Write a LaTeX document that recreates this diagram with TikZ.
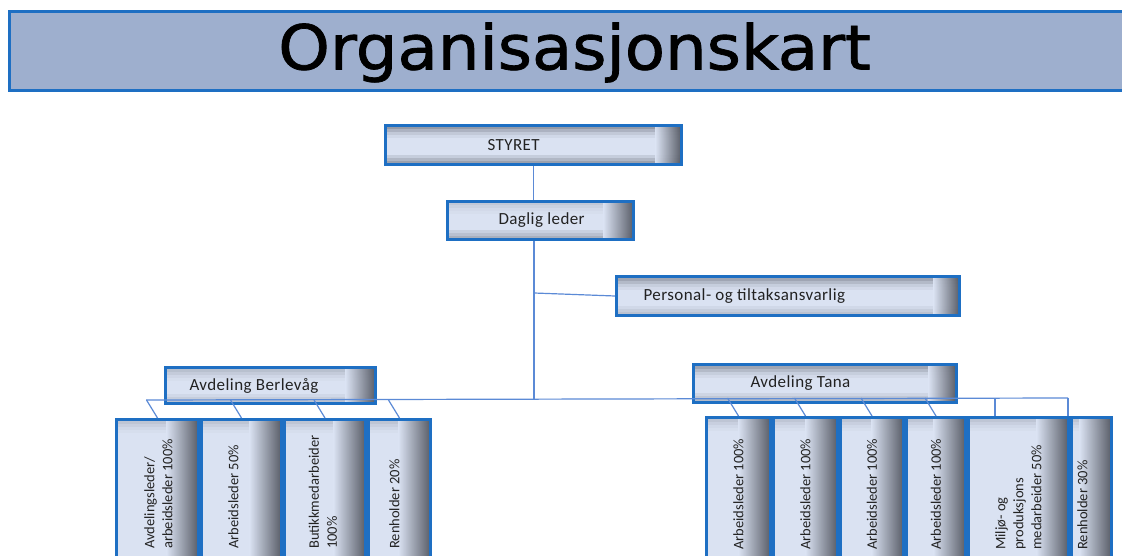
\documentclass[tikz,border=0pt]{standalone}
\usepackage{fontspec}
\usepackage{graphicx}
\setmainfont{Carlito}
\newfontfamily\titlefont[FakeBold=1.2]{DejaVu Sans}
\usetikzlibrary{calc}
\definecolor{titlefill}{HTML}{9EAFCE}
\definecolor{bblue}{HTML}{1E6FC3}
\definecolor{lineblue}{HTML}{5B8AD6}
\definecolor{boxfill}{HTML}{DAE2F2}
\definecolor{boxdark}{HTML}{4E525C}
\definecolor{textgray}{HTML}{222222}
\newcommand\padtext[3]{\makebox[#1pt][l]{\hspace*{#2pt}#3}}
\newcommand\bandT[3]{\fill[boxdark!#3!boxfill] ([yshift=-#1pt]path picture bounding box.north west) rectangle ([yshift=-#2pt]path picture bounding box.north east);}
\newcommand\bandB[3]{\fill[boxdark!#3!boxfill] ([yshift=#1pt]path picture bounding box.south west) rectangle ([yshift=#2pt]path picture bounding box.south east);}
\begin{document}
\begin{tikzpicture}[x=1pt,y=-1pt,
  conn/.style={draw=lineblue, line width=1.2pt},
  titlebar/.style={draw=bblue, fill=titlefill, line width=3pt, anchor=north west, inner sep=0pt},
  inshade/.style n args={3}{path picture={
    \bandT{0}{4}{#2}
    \bandT{4}{7}{\the\numexpr#2*2/3\relax}
    \bandT{7}{10}{\the\numexpr#2/3\relax}
    \bandT{10}{13}{\the\numexpr#2/7\relax}
    \bandB{0}{3.5}{#3}
    \bandB{3.5}{6.5}{\the\numexpr#3*2/3\relax}
    \bandB{6.5}{9.5}{\the\numexpr#3/3\relax}
    \shade[left color=boxfill, right color=boxdark, fill opacity=0.92]
      ([xshift=-#1pt]path picture bounding box.north east) rectangle (path picture bounding box.south east);
  }},
  hbox/.style={draw=bblue, line width=3pt, fill=boxfill, anchor=north west,
    inner xsep=0pt, inner ysep=0pt, text=textgray,
    font=\fontsize{17}{20}\selectfont\addfontfeature{LetterSpace=2.5}},
  vbox/.style={draw=bblue, line width=3pt, fill=boxfill, anchor=north west, inner sep=0pt,
    inshade={32}{20}{0}},
  ctext/.style={rotate=90, anchor=west, align=left, inner sep=0pt, text=textgray,
    font=\fontsize{14.5}{18}\selectfont}]
\useasboundingbox (0,0) rectangle (1122,556);
\clip (0,0) rectangle (1122,556);
\fill[white] (0,0) rectangle (1122,556);

% title
\node[titlebar, minimum width=1130pt, minimum height=79pt, text height=45pt, text depth=8pt] (title) at (8,10)
  {\titlefont\fontsize{62}{70}\selectfont\scalebox{1.06}[1]{Organisasjonskart}};

% top boxes
\node[hbox, inshade={26}{50}{45}, minimum width=296pt, minimum height=39pt] (styret) at (384,124) {\padtext{290}{99}{STYRET}};
\node[hbox, inshade={30}{18}{35}, minimum width=186pt, minimum height=38pt] (daglig) at (446,200) {\padtext{180}{48}{Daglig leder}};
\node[hbox, inshade={26}{42}{22}, minimum width=343pt, minimum height=39pt] (personal) at (615,275) {\padtext{337}{24}{Personal- og tiltaksansvarlig}};
\node[hbox, inshade={30}{24}{22}, minimum width=210pt, minimum height=36pt] (berlevag) at (164,366) {\padtext{204}{21}{Avdeling Berlevåg}};
\node[hbox, inshade={28}{42}{28}, minimum width=263pt, minimum height=38pt] (tana) at (692,363) {\padtext{257}{54}{Avdeling Tana}};

% child boxes left
\node[vbox, minimum width=82pt, minimum height=143pt] (l1) at (115,418) {};
\node[vbox, minimum width=80pt, minimum height=143pt] (l2) at (200,418) {};
\node[vbox, minimum width=81pt, minimum height=143pt] (l3) at (283,418) {};
\node[vbox, minimum width=62pt, minimum height=143pt] (l4) at (367,418) {};
% child boxes right
\node[vbox, minimum width=64pt, minimum height=145pt] (r1) at (705,416) {};
\node[vbox, minimum width=64pt, minimum height=145pt] (r2) at (772,416) {};
\node[vbox, minimum width=63pt, minimum height=145pt] (r3) at (839,416) {};
\node[vbox, minimum width=59pt, minimum height=145pt] (r4) at (905,416) {};
\node[vbox, minimum width=100pt, minimum height=145pt] (r5) at (967,416) {};
\node[vbox, minimum width=40pt, minimum height=145pt] (r6) at (1070,416) {};

% child texts
\coordinate (tb) at (0,549);
\node[ctext] (l1t) at ([xshift=1pt]l1.north |- tb) {Avdelingsleder/\\arbeidsleder 100\%};
\node[ctext] (l2t) at ([xshift=-8pt]l2.north |- tb) {Arbeidsleder 50\%};
\node[ctext] (l3t) at ([xshift=-2pt]l3.north |- tb) {Butikkmedarbeider\\100\%};
\node[ctext] (l4t) at ([xshift=-5pt]l4.north |- tb) {Renholder 20\%};
\node[ctext] (r1t) at ([yshift=-1pt]r1.north |- tb) {Arbeidsleder 100\%};
\node[ctext] (r2t) at ([yshift=-1pt]r2.north |- tb) {Arbeidsleder 100\%};
\node[ctext] (r3t) at ([yshift=-1pt]r3.north |- tb) {Arbeidsleder 100\%};
\node[ctext] (r4t) at ([yshift=-1pt]r4.north |- tb) {Arbeidsleder 100\%};
\node[ctext] (r5t) at ([yshift=-1pt]r5.north |- tb) {Miljø- og\\produksjons\\medarbeider 50\%};
\node[ctext] (r6t) at ([xshift=-9pt,yshift=-1pt]r6.north |- tb) {Renholder 30\%};

% connectors
\coordinate (busL) at (146,400);
\coordinate (busR) at (1068,398);
\coordinate (busC) at (534,399);
\coordinate (pj) at (534,293);
\coordinate (b5) at (995,398);
\draw[conn] (styret.south) -- (styret.south |- daglig.north);
\draw[conn] (busC |- daglig.south) -- (busC);
\draw[conn] (pj) -- (personal.west);
\draw[conn] (busL) -- (busR);
\foreach \n in {l1,l2,l3,l4,r1,r2,r3,r4}{
  \draw[conn] ($(\n.north)+(-11,-18)$) -- (\n.north);
}
\draw[conn] (b5) -- (b5 |- r5.north);
\draw[conn] (busR) -- (busR |- r6.north);
\end{tikzpicture}
\end{document}
